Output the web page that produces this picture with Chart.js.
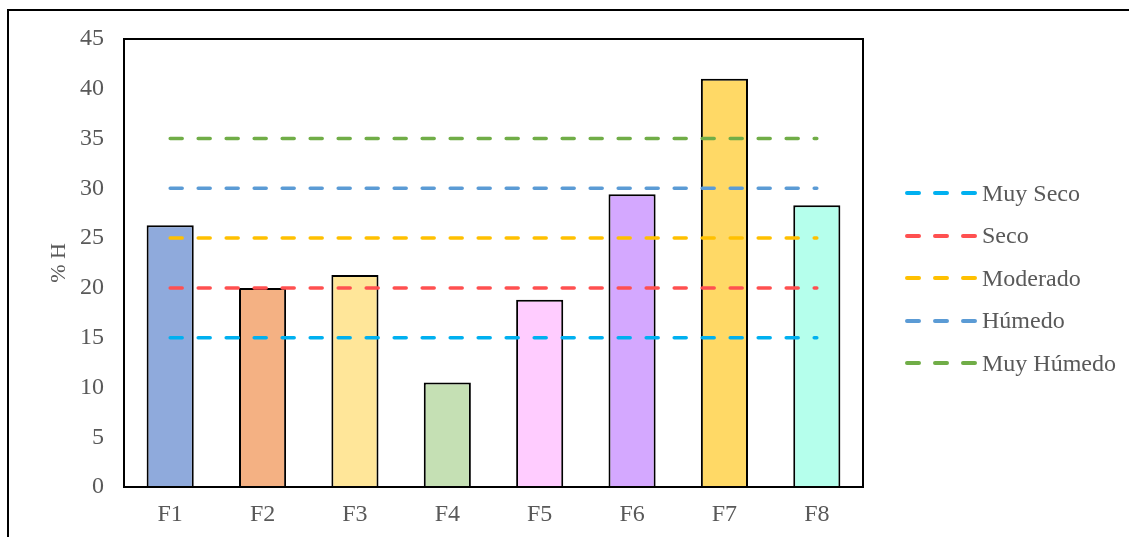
<!DOCTYPE html>
<html>
<head>
<meta charset="utf-8">
<script src="https://cdn.jsdelivr.net/npm/chart.js@4.4.1/dist/chart.umd.min.js"></script>
<style>
  html, body { margin: 0; padding: 0; background: #fff; }
  #wrap { position: relative; width: 1129px; height: 537px; overflow: hidden; }
  #frame { position: absolute; left: 7px; top: 9px; width: 1200px; height: 600px;
           border-left: 2px solid #000; border-top: 2px solid #000; }
  #chart { position: absolute; left: 0; top: 0; }
  #legend { position: absolute; left: 0; top: 0; font-family: "Liberation Serif", "Times New Roman", serif;
            font-size: 24px; color: #595959; }
  .item { position: absolute; left: 903px; height: 28px; display: flex; align-items: center; white-space: nowrap; }
  .item svg { display: block; }
  .item span { margin-left: 3px; }
</style>
</head>
<body>
<div id="wrap">
  <div id="frame"></div>
  <canvas id="chart" width="1129" height="537"></canvas>
  <div id="legend"></div>
</div>
<script>
// Sample sites and measured moisture content (% H)
const categories = ['F1', 'F2', 'F3', 'F4', 'F5', 'F6', 'F7', 'F8'];
const humedad = [26.3, 20.0, 21.3, 10.5, 18.8, 29.4, 41.0, 28.3];
const barColors = ['#8FAADC', '#F4B183', '#FFE699', '#C5E0B4', '#FFCCFF', '#D4A8FF', '#FFD966', '#B5FFEC'];

// Moisture classes as horizontal reference levels
const claseNombres = ['Muy Seco', 'Seco', 'Moderado', 'Húmedo', 'Muy Húmedo'];
const claseNiveles = [15, 20, 25, 30, 35];
const claseColores = ['#00B0F0', '#FF5050', '#FFC000', '#5B9BD5', '#70AD47'];

const yTicks = [0, 5, 10, 15, 20, 25, 30, 35, 40, 45];

const FONT = '"Liberation Serif", "Times New Roman", serif';
const TEXT = '#595959';

const lineSets = claseNombres.map((name, i) => ({
  type: 'line',
  label: name,
  data: categories.map(() => claseNiveles[i]),
  borderColor: claseColores[i],
  backgroundColor: claseColores[i],
  borderWidth: 3.5,
  borderDash: [12, 16],
  borderCapStyle: 'round',
  pointRadius: 0,
  pointHoverRadius: 0,
  fill: false,
  tension: 0,
  order: 1
}));

const plotFrame = {
  id: 'plotFrame',
  afterDatasetsDraw(chart) {
    const { ctx, chartArea: a } = chart;
    ctx.save();
    ctx.strokeStyle = '#000';
    ctx.lineWidth = 2;
    ctx.strokeRect(a.left, a.top, a.right - a.left, a.bottom - a.top);
    ctx.restore();
  }
};

const chart = new Chart(document.getElementById('chart'), {
  data: {
    labels: categories,
    datasets: [
      {
        type: 'bar',
        label: '% H',
        data: humedad,
        backgroundColor: barColors,
        borderColor: '#000',
        borderWidth: 2,
        barPercentage: 0.51,
        categoryPercentage: 1.0,
        order: 10
      },
      ...lineSets
    ]
  },
  options: {
    responsive: false,
    animation: false,
    layout: { padding: { top: 39, right: 266, bottom: 0, left: 46 } },
    plugins: { legend: { display: false }, tooltip: { enabled: false } },
    scales: {
      x: {
        grid: { display: false, drawTicks: false },
        border: { display: false },
        ticks: { color: TEXT, font: { family: FONT, size: 24 }, padding: 13 },
        afterFit(s) { s.height = 50; }
      },
      y: {
        min: 0, max: 45,
        afterBuildTicks(s) { s.ticks = yTicks.map(v => ({ value: v })); },
        grid: { display: false, drawTicks: false },
        border: { display: false },
        ticks: { color: TEXT, font: { family: FONT, size: 24 }, padding: 20 },
        title: { display: true, text: '% H', color: TEXT, font: { family: FONT, size: 22 }, padding: 0 },
        afterFit(s) { s.width = 78; }
      }
    }
  },
  plugins: [plotFrame]
});

// Legend built from the line datasets
const legend = document.getElementById('legend');
const rowY = 193, rowStep = 42.5;
chart.data.datasets.filter(d => d.type === 'line').forEach((d, i) => {
  const item = document.createElement('div');
  item.className = 'item';
  item.style.top = (rowY + i * rowStep - 14) + 'px';
  item.innerHTML =
    `<svg width="76" height="8"><line x1="4" y1="4" x2="72" y2="4" stroke="${d.borderColor}" stroke-width="4" stroke-dasharray="12 16" stroke-linecap="round"/></svg>` +
    `<span>${d.label}</span>`;
  legend.appendChild(item);
});
</script>
</body>
</html>
